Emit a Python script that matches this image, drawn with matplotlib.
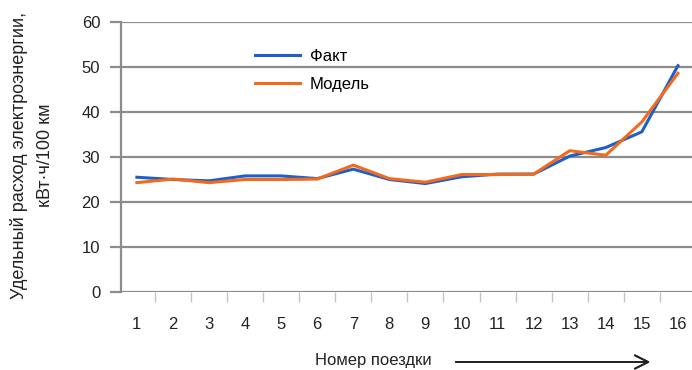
import numpy as np
import matplotlib.pyplot as plt

plt.rcParams['font.family'] = ['Liberation Sans', 'DejaVu Sans']

trips = np.arange(1, 17)
fact = [25.5, 25.0, 24.7, 25.8, 25.8, 25.2, 27.3, 25.0, 24.1, 25.6, 26.2, 26.2, 30.2, 32.1, 35.6, 50.3]
model = [24.3, 25.1, 24.3, 25.0, 25.0, 25.1, 28.2, 25.2, 24.4, 26.1, 26.1, 26.2, 31.4, 30.4, 37.8, 48.6]
yticks = [0, 10, 20, 30, 40, 50, 60]

fig = plt.figure(figsize=(6.92, 3.70), dpi=100)
ax = fig.add_axes([121/692, 1-292/370, 1-121/692, 270/370])

grey = '#8c8c8c'
txt = '#222222'
ax.plot(trips, fact, color='#1f5fc8', lw=2.2, label='Факт', zorder=3)
ax.plot(trips, model, color='#f26b1d', lw=2.2, label='Модель', zorder=3)

ax.set_ylim(0, 60)
ax.set_xlim(0.56, 16.39)
ax.set_yticks(yticks)
ax.set_xticks(trips)
ax.set_xticks(trips[:-1] + 0.5, minor=True)
ax.yaxis.grid(True, color=grey, lw=1.6)
ax.set_axisbelow(True)
for s in ['top', 'right', 'bottom']:
    ax.spines[s].set_visible(False)
ax.spines['left'].set_color(grey)
ax.spines['left'].set_linewidth(1.6)
ax.tick_params(axis='y', colors=grey, length=8, width=1.6, labelcolor=txt, labelsize=12, pad=7)
ax.tick_params(axis='x', which='major', length=0, labelcolor=txt, labelsize=12, pad=18)
ax.tick_params(axis='x', which='minor', length=7, width=1.0, color='#c4c4c4')

ax.set_ylabel('Удельный расход электроэнергии,\nкВт·ч/100 км', fontsize=13, color=txt,
              va='center', linespacing=1.65)
ax.yaxis.set_label_coords(-0.156, 0.507)

leg = ax.legend(loc='upper left', bbox_to_anchor=(0.2347, 0.90), frameon=False, fontsize=12,
                handlelength=2.7, labelspacing=0.75, handletextpad=0.6, borderpad=0, borderaxespad=0)

fig.text(315/692, 1-361/370, 'Номер поездки', fontsize=12, color=txt, va='center')
fig.add_artist(plt.annotate('', xy=(653/692, 1-362/370), xytext=(453/692, 1-362/370),
                            xycoords='figure fraction',
                            arrowprops=dict(arrowstyle='->', color=txt, lw=1.3, mutation_scale=24)))

fig.savefig('out.png', dpi=100)
